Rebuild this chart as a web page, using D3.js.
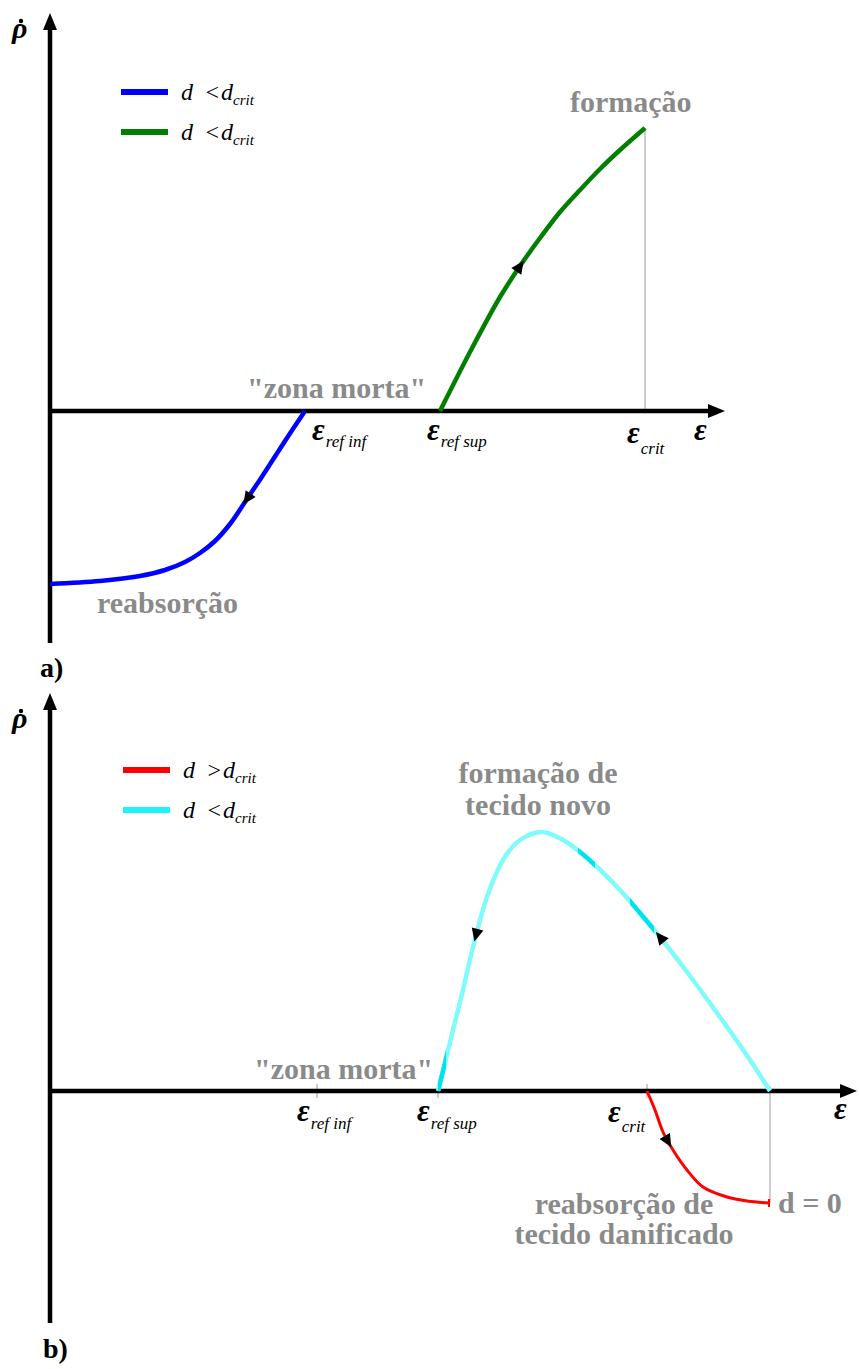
<!DOCTYPE html>
<html><head><meta charset="utf-8">
<script src="https://cdn.jsdelivr.net/npm/d3@7"></script>
<style>body{margin:0;background:#fff} svg{display:block}</style>
</head><body>
<svg id="chart" width="859" height="1369"></svg>
<script>
// ---------- curve data: x = strain (arbitrary units), y = density rate ----------
// panel a
const blueX  = [0, 5.0, 9.0, 11.5, 13.5, 15.0, 16.5, 18.0, 19.5, 21.5, 23.5, 25.5];
const blueY  = [-17.3, -17.0, -16.5, -15.9, -15.1, -14.2, -13.0, -11.3, -9.1, -6.1, -3.0, 0];
const greenX = [39.0, 42.0, 45.0, 47.0, 49.0, 51.0, 53.0, 55.0, 57.0, 59.5];
const greenY = [0, 5.9, 11.4, 14.5, 17.3, 19.9, 22.1, 24.2, 26.1, 28.3];
// panel b
const cyanX = [38.8, 39.5, 40.3, 41.3, 42.3, 43.7, 45.3, 47.0, 49.2, 51.3, 53.0, 54.5, 57.0, 59.0, 61.0, 64.0, 67.0, 70.0, 72.0];
const cyanY = [0, 2.8, 6.1, 10.1, 14.4, 19.4, 23.1, 25.1, 25.9, 25.1, 23.9, 22.6, 20.1, 17.8, 15.4, 11.5, 7.4, 3.1, 0];
const cyanDarkRanges = [[38.8, 39.6], [52.8, 54.5], [58.0, 60.4]];
const redX = [59.7, 60.5, 61.3, 62.3, 63.7, 65.3, 67.7, 69.7, 71.9];
const redY = [0, -1.9, -4.1, -5.9, -7.9, -9.6, -10.6, -11.0, -11.2];

// reference strains marked on the axes
const strainNamesA  = ["ref inf", "ref sup", "crit"];
const strainValuesA = [25.5, 39.0, 59.5];
const strainNamesB  = ["ref inf", "ref sup", "crit"];
const strainValuesB = [26.7, 38.8, 59.7];
const dZeroStrainB  = 72.0;

// legend entries
const legendA = [{color: "#0000ff", op: "<"}, {color: "#007f00", op: "<"}];
const legendB = [{color: "#ff0000", op: ">"}, {color: "#1ef2fa", op: "<"}];

// direction arrows on curves (x in strain units, dir relative to data order)
const arrowsA = [{curve: "blue", x: 19.7, dir: -1}, {curve: "green", x: 47.0, dir: 1}];
const arrowsB = [{curve: "cyan", x: 42.6, dir: -1}, {curve: "cyan", x: 61.0, dir: -1}, {curve: "red", x: 61.8, dir: 1}];

// ---------- layout ----------
const svg = d3.select("#chart");
svg.append("rect").attr("width", 859).attr("height", 1369).attr("fill", "#fff");

const SERIF = "'Liberation Serif','Times New Roman',serif";
const GRAY = "#8a8a8a";
const yDomain = [-23.2, 39.8];

const panels = {
  a: {
    x: d3.scaleLinear().domain([0, 67.5]).range([50, 725]),
    y: d3.scaleLinear().domain(yDomain).range([643, 13])
  },
  b: {
    x: d3.scaleLinear().domain([0, 80.7]).range([50, 857]),
    y: d3.scaleLinear().domain(yDomain).range([1323, 693])
  }
};

const zip = (xs, ys) => xs.map((v, i) => [v, ys[i]]);
const lineFor = p => d3.line().x(d => p.x(d[0])).y(d => p.y(d[1])).curve(d3.curveCatmullRom.alpha(0.5));

function drawAxes(p, yTop, yBottom, xEnd) {
  const g = svg.append("g");
  const x0 = p.x(0), y0 = p.y(0);
  const top = p.y(yTop), bottom = p.y(yBottom), right = p.x(xEnd);
  g.append("line").attr("x1", x0).attr("x2", x0).attr("y1", bottom).attr("y2", top + 12)
    .attr("stroke", "#000").attr("stroke-width", 4.5);
  g.append("path").attr("d", `M${x0},${top} L${x0 - 7},${top + 17} L${x0 + 7},${top + 17} Z`).attr("fill", "#000");
  g.append("line").attr("x1", x0 - 2).attr("x2", right - 12).attr("y1", y0).attr("y2", y0)
    .attr("stroke", "#000").attr("stroke-width", 4.5);
  g.append("path").attr("d", `M${right},${y0} L${right - 17},${y0 - 7} L${right - 17},${y0 + 7} Z`).attr("fill", "#000");
}

function drawCurve(p, data, color, width) {
  return svg.append("path").datum(data).attr("d", lineFor(p))
    .attr("fill", "none").attr("stroke", color).attr("stroke-width", width)
    .attr("stroke-linejoin", "round");
}

// find the point on a (monotone in x) path at a given pixel x
function pointAtX(node, px) {
  let lo = 0, hi = node.getTotalLength();
  for (let i = 0; i < 40; i++) {
    const mid = (lo + hi) / 2;
    if (node.getPointAtLength(mid).x < px) lo = mid; else hi = mid;
  }
  return (lo + hi) / 2;
}

function drawArrow(node, p, a) {
  const L = pointAtX(node, p.x(a.x));
  const pt = node.getPointAtLength(L);
  const q = node.getPointAtLength(Math.min(node.getTotalLength(), Math.max(0, L + a.dir * 2)));
  let dx = q.x - pt.x, dy = q.y - pt.y;
  const n = Math.hypot(dx, dy) || 1; dx /= n; dy /= n;
  const len = 13, hw = 6;
  const tip = [pt.x + dx * len * 0.5, pt.y + dy * len * 0.5];
  const base = [pt.x - dx * len * 0.5, pt.y - dy * len * 0.5];
  svg.append("path")
    .attr("d", `M${tip[0]},${tip[1]} L${base[0] - dy * hw},${base[1] + dx * hw} L${base[0] + dy * hw},${base[1] - dx * hw} Z`)
    .attr("fill", "#000");
}

function strainLabel(px, py, sub, subDy) {
  const t = svg.append("text").attr("x", px).attr("y", py).attr("font-family", SERIF).attr("fill", "#000");
  t.append("tspan").attr("font-size", 31).attr("font-weight", "bold").attr("font-style", "italic").text("ε");
  if (sub) t.append("tspan").attr("font-size", 17).attr("font-style", "italic").attr("dy", subDy).attr("dx", 1).text(sub);
}

function rhoLabel(px, py) {
  svg.append("text").attr("x", px).attr("y", py).attr("font-family", SERIF)
    .attr("font-size", 30).attr("font-weight", "bold").attr("font-style", "italic").text("ρ");
  svg.append("circle").attr("cx", px + 9).attr("cy", py - 17).attr("r", 2.2).attr("fill", "#000");
}

function legend(entries, x0, y0, gap) {
  entries.forEach((e, i) => {
    const y = y0 + i * gap;
    svg.append("line").attr("x1", x0).attr("x2", x0 + 47).attr("y1", y).attr("y2", y)
      .attr("stroke", e.color).attr("stroke-width", 6);
    const t = svg.append("text").attr("x", x0 + 60).attr("y", y + 8).attr("font-family", SERIF)
      .attr("font-style", "italic").attr("font-size", 24);
    t.append("tspan").text("d");
    t.append("tspan").attr("x", x0 + 83).text(e.op);
    t.append("tspan").attr("x", x0 + 100).text("d");
    t.append("tspan").attr("font-size", 15).attr("dy", 5).text("crit");
  });
}

function note(txt, x, y, anchor) {
  svg.append("text").attr("x", x).attr("y", y).attr("text-anchor", anchor || "start")
    .attr("font-family", SERIF).attr("font-weight", "bold").attr("font-size", 30)
    .attr("fill", GRAY).text(txt);
}

// ---------- panel a ----------
{
  const p = panels.a;
  // gray guide at the critical strain
  svg.append("line").attr("x1", p.x(strainValuesA[2])).attr("x2", p.x(strainValuesA[2]))
    .attr("y1", p.y(greenY[greenY.length - 1])).attr("y2", p.y(0))
    .attr("stroke", "#bdbdbd").attr("stroke-width", 1.5);
  drawAxes(p, 39.8, -23.2, 67.5);
  const blue = drawCurve(p, zip(blueX, blueY), "#0000ff", 4.5);
  const green = drawCurve(p, zip(greenX, greenY), "#007f00", 4.5);
  const nodes = {blue: blue.node(), green: green.node()};
  arrowsA.forEach(a => drawArrow(nodes[a.curve], p, a));

  legend(legendA, 121, 92, 40);
  rhoLabel(12, 38);

  strainLabel(p.x(strainValuesA[0]) + 7, 440, strainNamesA[0], 7);
  strainLabel(p.x(strainValuesA[1]) - 13, 440, strainNamesA[1], 7);
  strainLabel(p.x(strainValuesA[2]) - 18, 443, strainNamesA[2], 11);
  strainLabel(694, 440, null);

  note("\"zona morta\"", 247, 398);
  note("formação", 570, 112);
  note("reabsorção", 97, 613);
  svg.append("text").attr("x", 40).attr("y", 677).attr("font-family", SERIF)
    .attr("font-weight", "bold").attr("font-size", 28).text("a)");
}

// ---------- panel b ----------
{
  const p = panels.b;
  const y0 = p.y(0);
  // guide from the d = 0 point down to the end of resorption
  svg.append("line").attr("x1", p.x(dZeroStrainB)).attr("x2", p.x(dZeroStrainB))
    .attr("y1", y0 - 5).attr("y2", p.y(redY[redY.length - 1]))
    .attr("stroke", "#bdbdbd").attr("stroke-width", 1.5);
  strainValuesB.forEach(v => {
    svg.append("line").attr("x1", p.x(v)).attr("x2", p.x(v)).attr("y1", y0 - 7).attr("y2", y0 + 7)
      .attr("stroke", "#bdbdbd").attr("stroke-width", 1.5);
  });
  drawAxes(p, 39.8, -23.2, 80.7);

  const cyanData = zip(cyanX, cyanY);
  const cyan = drawCurve(p, cyanData, "#80fbfb", 4.5);
  // darker stretches of the same curve
  cyanDarkRanges.forEach((r, i) => {
    const id = "cyanClip" + i;
    svg.append("clipPath").attr("id", id).append("rect")
      .attr("x", p.x(r[0])).attr("width", p.x(r[1]) - p.x(r[0]))
      .attr("y", p.y(yDomain[1])).attr("height", p.y(0) - p.y(yDomain[1]));
    drawCurve(p, cyanData, "#00e3ef", 4.5).attr("clip-path", `url(#${id})`);
  });
  const red = drawCurve(p, zip(redX, redY), "#ff0000", 3);
  const rEnd = [p.x(redX[redX.length - 1]), p.y(redY[redY.length - 1])];
  svg.append("line").attr("x1", rEnd[0]).attr("x2", rEnd[0]).attr("y1", rEnd[1] - 4).attr("y2", rEnd[1] + 4)
    .attr("stroke", "#ff0000").attr("stroke-width", 2);

  const nodes = {cyan: cyan.node(), red: red.node()};
  arrowsB.forEach(a => drawArrow(nodes[a.curve], p, a));

  legend(legendB, 123, 770, 40);
  rhoLabel(12, 728);

  strainLabel(p.x(strainValuesB[0]) - 20, 1121, strainNamesB[0], 8);
  strainLabel(p.x(strainValuesB[1]) - 21, 1121, strainNamesB[1], 8);
  strainLabel(p.x(strainValuesB[2]) - 39, 1122, strainNamesB[2], 10);
  strainLabel(834, 1119, null);

  note("formação de", 538, 783, "middle");
  note("tecido novo", 538, 815, "middle");
  note("\"zona morta\"", 254, 1079);
  note("reabsorção de", 624, 1214, "middle");
  note("tecido danificado", 624, 1244, "middle");
  note("d = 0", 778, 1213);
  svg.append("text").attr("x", 43).attr("y", 1358).attr("font-family", SERIF)
    .attr("font-weight", "bold").attr("font-size", 28).text("b)");
}
</script>
</body></html>
